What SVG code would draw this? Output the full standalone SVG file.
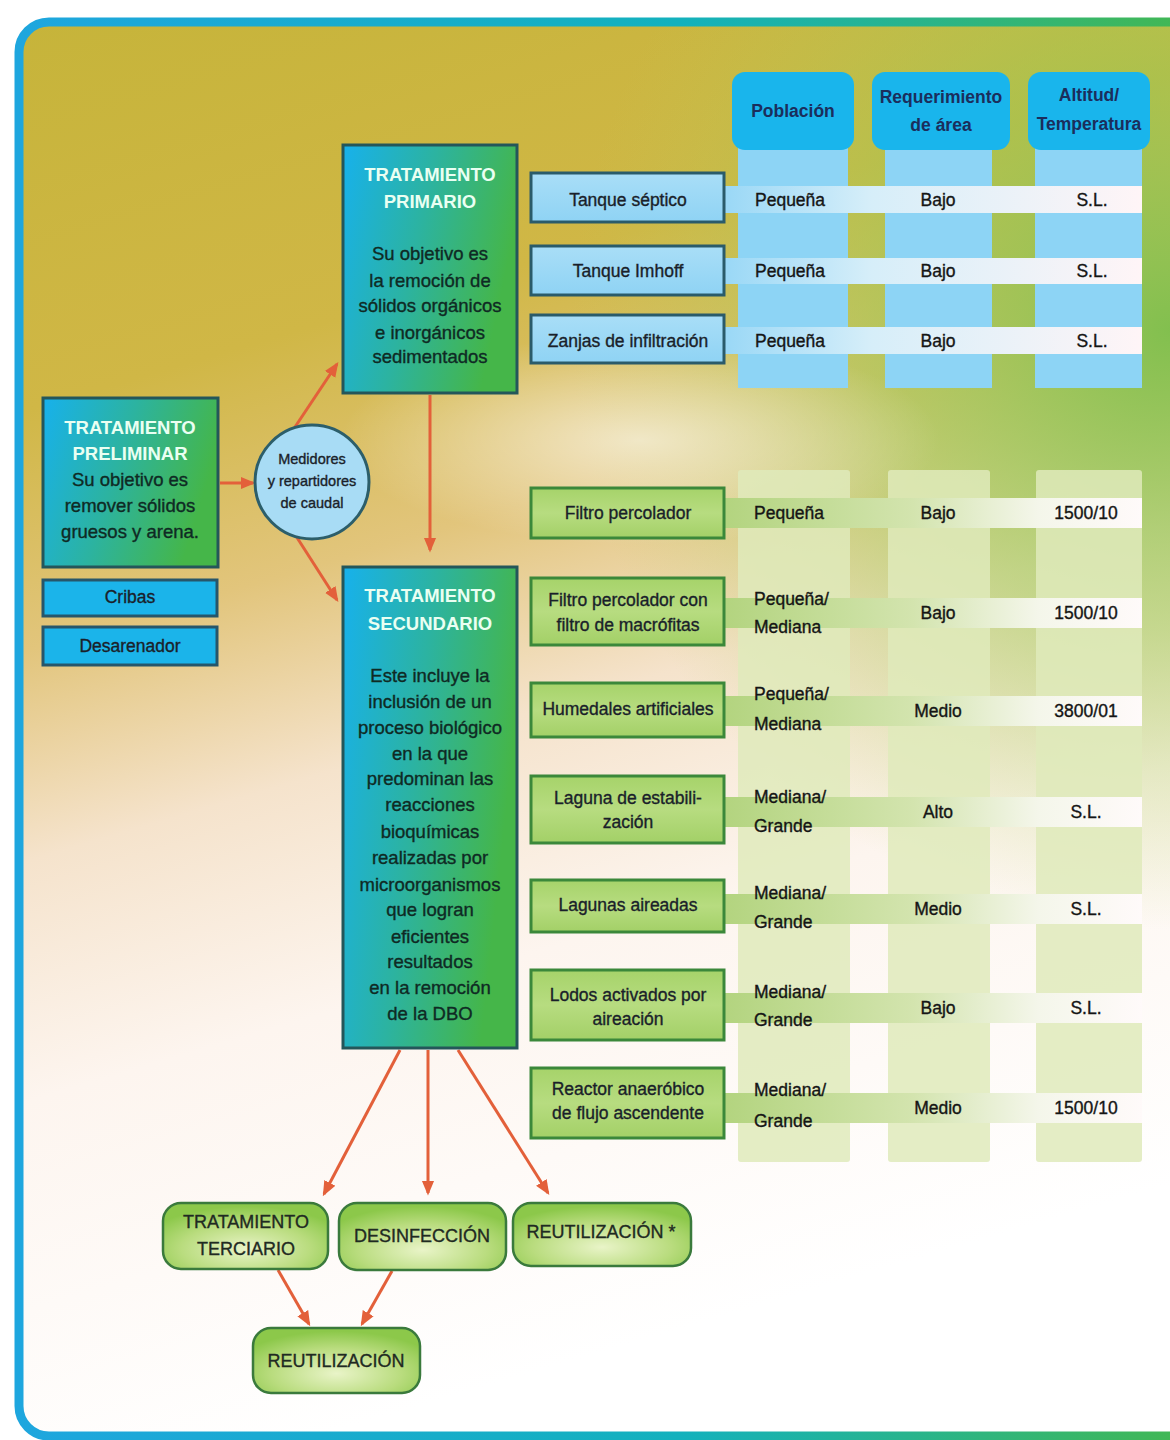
<svg xmlns="http://www.w3.org/2000/svg" width="1170" height="1440" viewBox="0 0 1170 1440">
  <defs>
    <linearGradient id="bg" x1="0" y1="0" x2="0.25" y2="1">
      <stop offset="0" stop-color="#c6b43a"/>
      <stop offset="0.26" stop-color="#d0b746"/>
      <stop offset="0.42" stop-color="#e2c57c"/>
      <stop offset="0.56" stop-color="#f5e3cc"/>
      <stop offset="0.72" stop-color="#fdf5ef"/>
      <stop offset="1" stop-color="#ffffff"/>
    </linearGradient>
    <radialGradient id="greenGlow" gradientUnits="userSpaceOnUse" cx="1170" cy="330" r="600">
      <stop offset="0" stop-color="#7dbf4c" stop-opacity="0.95"/>
      <stop offset="0.5" stop-color="#9cc851" stop-opacity="0.55"/>
      <stop offset="1" stop-color="#b8cc5a" stop-opacity="0"/>
    </radialGradient>
    <radialGradient id="lightGlow" gradientUnits="userSpaceOnUse" cx="640" cy="440" r="300" gradientTransform="translate(640 440) scale(1 0.35) translate(-640 -440)">
      <stop offset="0" stop-color="#ffffff" stop-opacity="0.6"/>
      <stop offset="1" stop-color="#ffffff" stop-opacity="0"/>
    </radialGradient>
    <linearGradient id="frame" x1="0" y1="0" x2="1" y2="0">
      <stop offset="0" stop-color="#1ea6de"/>
      <stop offset="0.55" stop-color="#13b1bd"/>
      <stop offset="1" stop-color="#45b84c"/>
    </linearGradient>
    <linearGradient id="stage" x1="0" y1="0" x2="1" y2="0.3">
      <stop offset="0" stop-color="#17b1ec"/>
      <stop offset="0.5" stop-color="#2cb3a0"/>
      <stop offset="1" stop-color="#45b649"/>
    </linearGradient>
    <linearGradient id="blueBox" x1="0" y1="0" x2="0" y2="1">
      <stop offset="0" stop-color="#a9def7"/>
      <stop offset="1" stop-color="#8fd3f4"/>
    </linearGradient>
    <linearGradient id="greenBox" x1="0" y1="0" x2="0" y2="1">
      <stop offset="0" stop-color="#a6d36a"/>
      <stop offset="0.5" stop-color="#b7dc80"/>
      <stop offset="1" stop-color="#a3d067"/>
    </linearGradient>
    <radialGradient id="pill" cx="0.5" cy="0.7" r="0.65">
      <stop offset="0" stop-color="#e9f4c8"/>
      <stop offset="0.6" stop-color="#b9dc7e"/>
      <stop offset="1" stop-color="#8cc84a"/>
    </radialGradient>
    <linearGradient id="rowBlue" x1="0" y1="0" x2="1" y2="0">
      <stop offset="0" stop-color="#9ad8f6"/>
      <stop offset="0.35" stop-color="#d6eef9"/>
      <stop offset="1" stop-color="#fff5f7"/>
    </linearGradient>
    <linearGradient id="rowGreen" x1="0" y1="0" x2="1" y2="0">
      <stop offset="0" stop-color="#b3d47f"/>
      <stop offset="0.45" stop-color="#d3e4ae"/>
      <stop offset="0.75" stop-color="#f4f6ea"/>
      <stop offset="1" stop-color="#fffafa"/>
    </linearGradient>
    <marker id="arrow" markerUnits="userSpaceOnUse" markerWidth="15" markerHeight="14" viewBox="0 0 12 10" refX="10" refY="5" orient="auto">
      <path d="M0,0 L12,5 L0,10 z" fill="#e3603a"/>
    </marker>
    <style>
      text { font-family: "Liberation Sans", Arial, sans-serif; }
      .hdr { fill: #1b2e5c; font-weight: bold; font-size: 17.5px; text-anchor: middle; }
      .cell { fill: #151515; stroke: #151515; stroke-width: 0.35; font-size: 17.5px; }
      .mid { text-anchor: middle; }
      .lbl { fill: #1a1f2a; stroke: #1a1f2a; stroke-width: 0.35; font-size: 17.5px; text-anchor: middle; }
      .ttl { fill: #eafff2; font-weight: bold; font-size: 18.5px; text-anchor: middle; }
      .body { fill: #0f2a24; stroke: #0f2a24; stroke-width: 0.35; font-size: 18.5px; text-anchor: middle; }
      .node { fill: #1f2a22; stroke: #1f2a22; stroke-width: 0.35; font-size: 18px; text-anchor: middle; }
      .bluebox { fill: url(#blueBox); stroke: #2a5b6a; stroke-width: 3; }
      .cyanbox { fill: #1bb4ea; stroke: #27566a; stroke-width: 3; }
      .greenbox { fill: url(#greenBox); stroke: #3b883a; stroke-width: 3; }
      .stagebox { fill: url(#stage); stroke: #24565a; stroke-width: 3; }
      .pillbox { fill: url(#pill); stroke: #3a7a3c; stroke-width: 2.5; }
      .head { fill: #19b5ec; }
      .stripB { fill: #8dd4f5; }
      .stripG { fill: #dfeabb; opacity: 0.85; }
      .link { stroke: #e3603a; stroke-width: 3; fill: none; marker-end: url(#arrow); }
    </style>
  </defs>

  <!-- backdrop and frame -->
  <rect x="0" y="0" width="1170" height="1440" fill="#ffffff"/>
  <rect x="19" y="22" width="1200" height="1414" rx="30" fill="url(#bg)"/>
  <rect x="19" y="22" width="1200" height="1414" rx="30" fill="url(#greenGlow)"/>
  <rect x="19" y="22" width="1200" height="1414" rx="30" fill="url(#lightGlow)"/>
  <rect x="19" y="22" width="1200" height="1414" rx="30" fill="none" stroke="url(#frame)" stroke-width="9"/>

  <!-- table columns: primary section -->
  <g id="table-primary">
    <rect class="stripB" x="738" y="148" width="110" height="240"/>
    <rect class="stripB" x="885" y="148" width="107" height="240"/>
    <rect class="stripB" x="1035" y="148" width="107" height="240"/>
    <rect x="725" y="186" width="417" height="27" fill="url(#rowBlue)"/>
    <rect x="725" y="258" width="417" height="26" fill="url(#rowBlue)"/>
    <rect x="725" y="327" width="417" height="27" fill="url(#rowBlue)"/>
  </g>

  <!-- table headers -->
  <g id="header-poblacion">
    <rect class="head" x="732" y="72" width="122" height="78" rx="13"/>
    <text class="hdr" x="793" y="117">Población</text>
  </g>
  <g id="header-area">
    <rect class="head" x="872" y="72" width="138" height="78" rx="13"/>
    <text class="hdr" x="941" y="103">Requerimiento</text>
    <text class="hdr" x="941" y="131">de área</text>
  </g>
  <g id="header-altitud">
    <rect class="head" x="1028" y="72" width="122" height="78" rx="13"/>
    <text class="hdr" x="1089" y="101">Altitud/</text>
    <text class="hdr" x="1089" y="130">Temperatura</text>
  </g>

  <!-- table columns: secondary section -->
  <g id="table-secondary">
    <rect class="stripG" x="738" y="470" width="112" height="692" rx="3"/>
    <rect class="stripG" x="888" y="470" width="102" height="692" rx="3"/>
    <rect class="stripG" x="1036" y="470" width="106" height="692" rx="3"/>
    <rect x="725" y="498" width="417" height="30" fill="url(#rowGreen)"/>
    <rect x="725" y="598" width="417" height="30" fill="url(#rowGreen)"/>
    <rect x="725" y="696" width="417" height="30" fill="url(#rowGreen)"/>
    <rect x="725" y="797" width="417" height="30" fill="url(#rowGreen)"/>
    <rect x="725" y="894" width="417" height="30" fill="url(#rowGreen)"/>
    <rect x="725" y="993" width="417" height="30" fill="url(#rowGreen)"/>
    <rect x="725" y="1093" width="417" height="30" fill="url(#rowGreen)"/>
  </g>

  <!-- connectors -->
  <g id="connectors">
    <line class="link" x1="220" y1="483" x2="253" y2="483"/>
    <line class="link" x1="293" y1="430" x2="337" y2="364"/>
    <line class="link" x1="296" y1="536" x2="337" y2="600"/>
    <line class="link" x1="430" y1="395" x2="430" y2="550"/>
    <line class="link" x1="400" y1="1050" x2="324" y2="1194"/>
    <line class="link" x1="428" y1="1050" x2="428" y2="1193"/>
    <line class="link" x1="458" y1="1050" x2="548" y2="1193"/>
    <line class="link" x1="278" y1="1270" x2="309" y2="1324"/>
    <line class="link" x1="392" y1="1271" x2="362" y2="1324"/>
  </g>

  <!-- preliminary treatment -->
  <g id="preliminar">
    <rect class="stagebox" x="43" y="398" width="175" height="169"/>
    <text class="ttl" x="130" y="434">TRATAMIENTO</text>
    <text class="ttl" x="130" y="460">PRELIMINAR</text>
    <text class="body" x="130" y="486">Su objetivo es</text>
    <text class="body" x="130" y="512">remover sólidos</text>
    <text class="body" x="130" y="538">gruesos y arena.</text>
  </g>
  <g id="cribas">
    <rect class="cyanbox" x="43" y="580" width="174" height="36"/>
    <text class="lbl" x="130" y="603">Cribas</text>
  </g>
  <g id="desarenador">
    <rect class="cyanbox" x="43" y="627" width="174" height="38"/>
    <text class="lbl" x="130" y="652">Desarenador</text>
  </g>

  <!-- flow meters / splitters -->
  <g id="medidores">
    <circle cx="312" cy="482" r="57" fill="#a8dcf5" stroke="#2c5e6a" stroke-width="3"/>
    <text class="lbl" x="312" y="464" style="font-size:14.5px">Medidores</text>
    <text class="lbl" x="312" y="486" style="font-size:14.5px">y repartidores</text>
    <text class="lbl" x="312" y="508" style="font-size:14.5px">de caudal</text>
  </g>

  <!-- primary treatment -->
  <g id="primario">
    <rect class="stagebox" x="343" y="145" width="174" height="248"/>
    <text class="ttl" x="430" y="181">TRATAMIENTO</text>
    <text class="ttl" x="430" y="208">PRIMARIO</text>
    <text class="body" x="430" y="260">Su objetivo es</text>
    <text class="body" x="430" y="287">la remoción de</text>
    <text class="body" x="430" y="312">sólidos orgánicos</text>
    <text class="body" x="430" y="339">e inorgánicos</text>
    <text class="body" x="430" y="363">sedimentados</text>
  </g>

  <!-- secondary treatment -->
  <g id="secundario">
    <rect class="stagebox" x="343" y="567" width="174" height="481"/>
    <text class="ttl" x="430" y="602">TRATAMIENTO</text>
    <text class="ttl" x="430" y="630">SECUNDARIO</text>
    <text class="body" x="430" y="682">Este incluye la</text>
    <text class="body" x="430" y="708">inclusión de un</text>
    <text class="body" x="430" y="734">proceso biológico</text>
    <text class="body" x="430" y="760">en la que</text>
    <text class="body" x="430" y="785">predominan las</text>
    <text class="body" x="430" y="811">reacciones</text>
    <text class="body" x="430" y="838">bioquímicas</text>
    <text class="body" x="430" y="864">realizadas por</text>
    <text class="body" x="430" y="891">microorganismos</text>
    <text class="body" x="430" y="916">que logran</text>
    <text class="body" x="430" y="943">eficientes</text>
    <text class="body" x="430" y="968">resultados</text>
    <text class="body" x="430" y="994">en la remoción</text>
    <text class="body" x="430" y="1020">de la DBO</text>
  </g>

  <!-- primary processes -->
  <g id="tanque-septico">
    <rect class="bluebox" x="531" y="173" width="193" height="49"/>
    <text class="lbl" x="628" y="206">Tanque séptico</text>
    <text class="cell" x="755" y="206">Pequeña</text>
    <text class="cell mid" x="938" y="206">Bajo</text>
    <text class="cell mid" x="1092" y="206">S.L.</text>
  </g>
  <g id="tanque-imhoff">
    <rect class="bluebox" x="531" y="246" width="193" height="49"/>
    <text class="lbl" x="628" y="277">Tanque Imhoff</text>
    <text class="cell" x="755" y="277">Pequeña</text>
    <text class="cell mid" x="938" y="277">Bajo</text>
    <text class="cell mid" x="1092" y="277">S.L.</text>
  </g>
  <g id="zanjas">
    <rect class="bluebox" x="531" y="315" width="193" height="48"/>
    <text class="lbl" x="628" y="347">Zanjas de infiltración</text>
    <text class="cell" x="755" y="347">Pequeña</text>
    <text class="cell mid" x="938" y="347">Bajo</text>
    <text class="cell mid" x="1092" y="347">S.L.</text>
  </g>

  <!-- secondary processes -->
  <g id="filtro-percolador">
    <rect class="greenbox" x="531" y="488" width="193" height="50"/>
    <text class="lbl" x="628" y="519">Filtro percolador</text>
    <text class="cell" x="754" y="519">Pequeña</text>
    <text class="cell mid" x="938" y="519">Bajo</text>
    <text class="cell mid" x="1086" y="519">1500/10</text>
  </g>
  <g id="filtro-macrofitas">
    <rect class="greenbox" x="531" y="578" width="193" height="67"/>
    <text class="lbl" x="628" y="606">Filtro percolador con</text>
    <text class="lbl" x="628" y="631">filtro de macrófitas</text>
    <text class="cell" x="754" y="605">Pequeña/</text>
    <text class="cell" x="754" y="633">Mediana</text>
    <text class="cell mid" x="938" y="619">Bajo</text>
    <text class="cell mid" x="1086" y="619">1500/10</text>
  </g>
  <g id="humedales">
    <rect class="greenbox" x="531" y="683" width="193" height="54"/>
    <text class="lbl" x="628" y="715">Humedales artificiales</text>
    <text class="cell" x="754" y="700">Pequeña/</text>
    <text class="cell" x="754" y="730">Mediana</text>
    <text class="cell mid" x="938" y="717">Medio</text>
    <text class="cell mid" x="1086" y="717">3800/01</text>
  </g>
  <g id="laguna-estabilizacion">
    <rect class="greenbox" x="531" y="776" width="193" height="67"/>
    <text class="lbl" x="628" y="804">Laguna de estabili-</text>
    <text class="lbl" x="628" y="828">zación</text>
    <text class="cell" x="754" y="803">Mediana/</text>
    <text class="cell" x="754" y="832">Grande</text>
    <text class="cell mid" x="938" y="818">Alto</text>
    <text class="cell mid" x="1086" y="818">S.L.</text>
  </g>
  <g id="lagunas-aireadas">
    <rect class="greenbox" x="531" y="880" width="193" height="52"/>
    <text class="lbl" x="628" y="911">Lagunas aireadas</text>
    <text class="cell" x="754" y="899">Mediana/</text>
    <text class="cell" x="754" y="928">Grande</text>
    <text class="cell mid" x="938" y="915">Medio</text>
    <text class="cell mid" x="1086" y="915">S.L.</text>
  </g>
  <g id="lodos-activados">
    <rect class="greenbox" x="531" y="970" width="193" height="70"/>
    <text class="lbl" x="628" y="1001">Lodos activados por</text>
    <text class="lbl" x="628" y="1025">aireación</text>
    <text class="cell" x="754" y="998">Mediana/</text>
    <text class="cell" x="754" y="1026">Grande</text>
    <text class="cell mid" x="938" y="1014">Bajo</text>
    <text class="cell mid" x="1086" y="1014">S.L.</text>
  </g>
  <g id="reactor-anaerobico">
    <rect class="greenbox" x="531" y="1068" width="193" height="70"/>
    <text class="lbl" x="628" y="1095">Reactor anaeróbico</text>
    <text class="lbl" x="628" y="1119">de flujo ascendente</text>
    <text class="cell" x="754" y="1096">Mediana/</text>
    <text class="cell" x="754" y="1127">Grande</text>
    <text class="cell mid" x="938" y="1114">Medio</text>
    <text class="cell mid" x="1086" y="1114">1500/10</text>
  </g>

  <!-- downstream stages -->
  <g id="terciario">
    <rect class="pillbox" x="163" y="1203" width="165" height="66" rx="18"/>
    <text class="node" x="246" y="1228">TRATAMIENTO</text>
    <text class="node" x="246" y="1255">TERCIARIO</text>
  </g>
  <g id="desinfeccion">
    <rect class="pillbox" x="339" y="1203" width="167" height="67" rx="18"/>
    <text class="node" x="422" y="1242">DESINFECCIÓN</text>
  </g>
  <g id="reutilizacion-directa">
    <rect class="pillbox" x="513" y="1203" width="178" height="63" rx="18"/>
    <text class="node" x="601" y="1238">REUTILIZACIÓN *</text>
  </g>
  <g id="reutilizacion">
    <rect class="pillbox" x="253" y="1328" width="167" height="65" rx="18"/>
    <text class="node" x="336" y="1367">REUTILIZACIÓN</text>
  </g>
</svg>
